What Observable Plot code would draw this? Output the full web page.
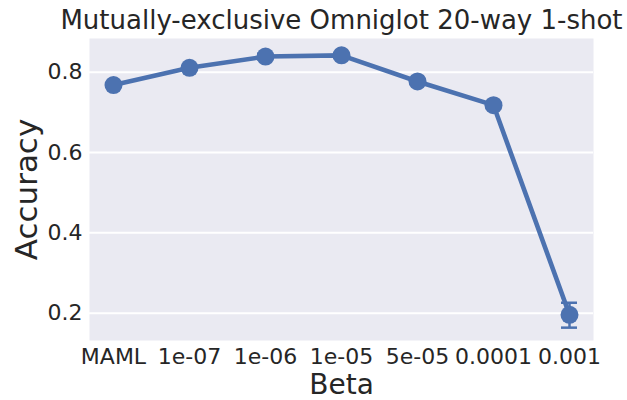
<!DOCTYPE html>
<html>
<head>
<meta charset="utf-8">
<script src="https://cdn.jsdelivr.net/npm/d3@7"></script>
<script src="https://cdn.jsdelivr.net/npm/@observablehq/plot@0.6"></script>
<style>
  html, body { margin: 0; padding: 0; background: #ffffff; }
  svg { display: block; }
</style>
</head>
<body>
<div id="chart"></div>
<script>
const betas = ["MAML", "1e-07", "1e-06", "1e-05", "5e-05", "0.0001", "0.001"];
const accuracy = [0.768, 0.811, 0.839, 0.842, 0.777, 0.718, 0.196];
const ciLow = [0.764, 0.807, 0.832, 0.837, 0.773, 0.714, 0.164];
const ciHigh = [0.772, 0.815, 0.846, 0.847, 0.781, 0.722, 0.226];
const yTicks = [0.2, 0.4, 0.6, 0.8];

const titleText = "Mutually-exclusive Omniglot 20-way 1-shot";
const xLabel = "Beta";
const yLabel = "Accuracy";

const data = betas.map((b, i) => ({beta: b, acc: accuracy[i], lo: ciLow[i], hi: ciHigh[i]}));

const blue = "#4C72B0";
const ink = "#262626";

const chart = Plot.plot({
  width: 627,
  height: 400,
  marginTop: 38,
  marginBottom: 60,
  marginLeft: 89,
  marginRight: 34,
  style: {fontFamily: "'DejaVu Sans', sans-serif", color: ink, background: "#ffffff"},
  x: {type: "point", domain: betas, padding: 0.3},
  y: {domain: [0.132, 0.884]},
  marks: [
    Plot.frame({fill: "#EAEAF2", stroke: null}),
    Plot.gridY(yTicks, {stroke: "#ffffff", strokeOpacity: 1, strokeWidth: 2}),
    Plot.axisY(yTicks, {tickSize: 0, tickPadding: 7, fontSize: 22, label: null, tickFormat: d3.format(".1f"), fill: ink}),
    Plot.axisX({tickSize: 0, tickPadding: 8, fontSize: 22, label: null, fill: ink}),
    Plot.ruleX(data, {x: "beta", y1: "lo", y2: "hi", stroke: blue, strokeWidth: 2.5}),
    Plot.ruleY(data, {x1: "beta", x2: "beta", y: "lo", stroke: blue, strokeWidth: 2.5, insetLeft: -8, insetRight: -8}),
    Plot.ruleY(data, {x1: "beta", x2: "beta", y: "hi", stroke: blue, strokeWidth: 2.5, insetLeft: -8, insetRight: -8}),
    Plot.line(data, {x: "beta", y: "acc", stroke: blue, strokeWidth: 4.6}),
    Plot.dot(data, {x: "beta", y: "acc", r: 9, fill: blue, stroke: null}),
    Plot.text([titleText], {frameAnchor: "top", lineAnchor: "bottom", dy: -10, fontSize: 26, fill: ink, text: d => d}),
    Plot.text([xLabel], {frameAnchor: "bottom", lineAnchor: "bottom", dy: 53, fontSize: 28, fill: ink, text: d => d}),
    Plot.text([yLabel], {frameAnchor: "left", textAnchor: "middle", lineAnchor: "bottom", rotate: -90, dx: -53, fontSize: 31, fill: ink, text: d => d})
  ]
});

document.getElementById("chart").appendChild(chart);
</script>
</body>
</html>
